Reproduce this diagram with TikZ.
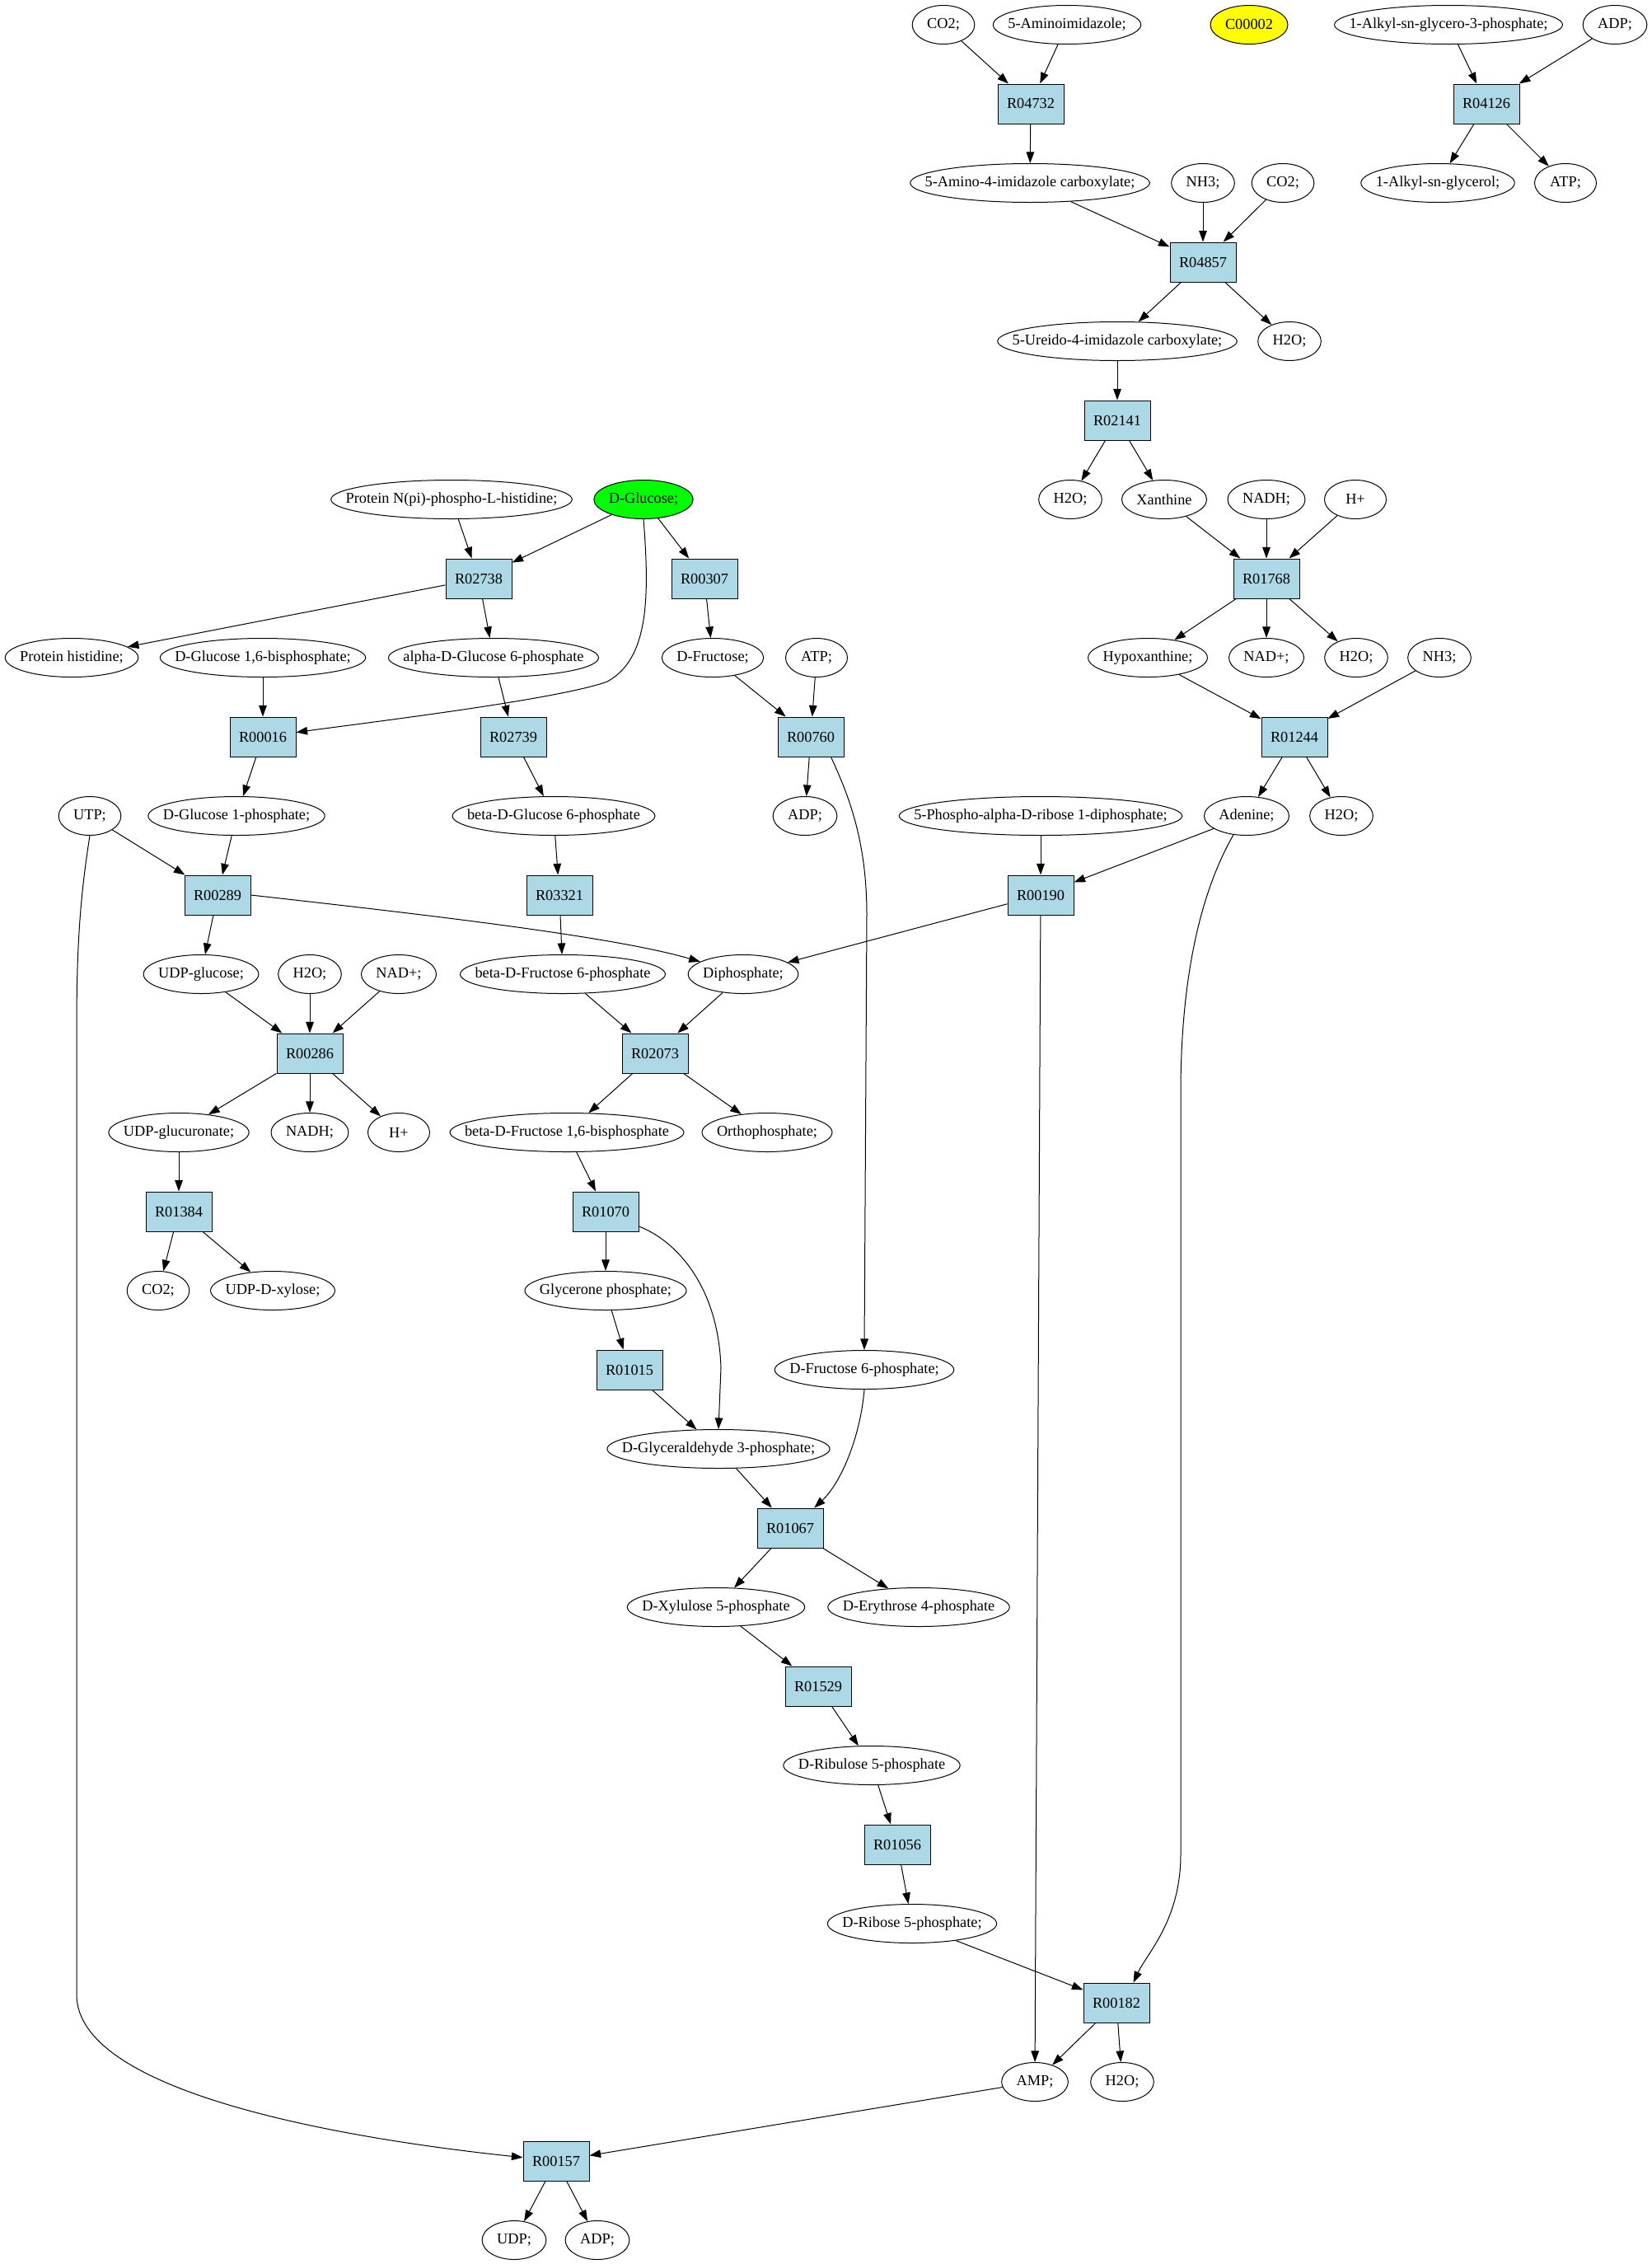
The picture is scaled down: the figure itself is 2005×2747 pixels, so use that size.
\documentclass[tikz,border=0pt]{standalone}
\usepackage{fontspec}
\setmainfont{Liberation Serif}
\usetikzlibrary{shapes.geometric,arrows.meta}
\definecolor{lblue}{HTML}{ADD8E6}
\definecolor{gvgreen}{HTML}{00FF00}
\definecolor{gvyellow}{HTML}{FFFF00}
\newcommand\nfont{\fontsize{9.15pt}{11pt}\selectfont}
\newdimen\cwd
\newcommand\cnode[4][]{%
 \node[cpd,minimum width={max(37.5pt,\cwd+18pt)},#1] (#2) at (#3) {\setbox0=\hbox{#4}\global\cwd=\wd0\relax\makebox[0pt]{#4}};}
\tikzset{
 cpd/.style={ellipse,draw,line width=0.5pt,minimum height=23.5pt,inner xsep=0pt,inner ysep=0pt,font=\nfont},
 rxn/.style={rectangle,draw,fill=lblue,line width=0.5pt,minimum width=40pt,minimum height=24pt,inner sep=0pt,font=\nfont},
 arr/.style={draw,line width=0.5pt,-{Triangle[length=6.8pt,width=4.8pt]}}
}
\begin{document}
\begin{tikzpicture}[x=0.5pt,y=-0.5pt]
\useasboundingbox (0,0) rectangle (2005,2747);
% row 0
\cnode{co2a}{1145,30}{CO2;}
\cnode{aimid}{1295,30}{5-Aminoimidazole;}
\cnode[fill=gvyellow]{c2}{1516,30}{C00002}
\cnode{alkylgp}{1758,30}{1-Alkyl-sn-glycero-3-phosphate;}
\cnode{adpa}{1960,30}{ADP;}
% row 1
\node[rxn] (r04732) at (1251,126) {R04732};
\node[rxn] (r04126) at (1804,126) {R04126};
% row 2
\cnode{aicarb}{1250,222}{5-Amino-4-imidazole carboxylate;}
\cnode{nh3a}{1460,222}{NH3;}
\cnode{co2b}{1557,222}{CO2;}
\cnode{alkylg}{1745,222}{1-Alkyl-sn-glycerol;}
\cnode{atpa}{1900,222}{ATP;}
% row 3
\node[rxn] (r04857) at (1460,318) {R04857};
% row 4
\cnode{ureido}{1356,414}{5-Ureido-4-imidazole carboxylate;}
\cnode{h2oa}{1565,414}{H2O;}
% row 5
\node[rxn] (r02141) at (1356,510) {R02141};
% row 6
\cnode{protnp}{548,606}{Protein N(pi)-phospho-L-histidine;}
\cnode[fill=gvgreen]{glc}{781,606}{D-Glucose;}
\cnode{h2ob}{1299,606}{H2O;}
\cnode{xan}{1413,606}{Xanthine}
\cnode{nadh1}{1537,606}{NADH;}
\cnode{hp1}{1645,606}{H+}
% row 7
\node[rxn] (r02738) at (581,702) {R02738};
\node[rxn] (r00307) at (855,702) {R00307};
\node[rxn] (r01768) at (1537,702) {R01768};
% row 8
\cnode{prothis}{87,798}{Protein histidine;}
\cnode{g16bp}{319,798}{D-Glucose 1,6-bisphosphate;}
\cnode{ag6p}{599,798}{alpha-D-Glucose 6-phosphate}
\cnode{fru}{865,798}{D-Fructose;}
\cnode{atpb}{991,798}{ATP;}
\cnode{hypo}{1393,798}{Hypoxanthine;}
\cnode{nad1}{1537,798}{NAD+;}
\cnode{h2oc}{1646,798}{H2O;}
\cnode{nh3b}{1747,798}{NH3;}
% row 9
\node[rxn] (r00016) at (319,894) {R00016};
\node[rxn] (r02739) at (623,894) {R02739};
\node[rxn] (r00760) at (984,894) {R00760};
\node[rxn] (r01244) at (1571,894) {R01244};
% row 10
\cnode{utp}{109,990}{UTP;}
\cnode{g1p}{287,990}{D-Glucose 1-phosphate;}
\cnode{bg6p}{672,990}{beta-D-Glucose 6-phosphate}
\cnode{adpb}{977,990}{ADP;}
\cnode{prpp}{1263,990}{5-Phospho-alpha-D-ribose 1-diphosphate;}
\cnode{aden}{1513,990}{Adenine;}
\cnode{h2od}{1628,990}{H2O;}
% row 11
\node[rxn] (r00289) at (264,1086) {R00289};
\node[rxn] (r03321) at (679,1086) {R03321};
\node[rxn] (r00190) at (1263,1086) {R00190};
% row 12
\cnode{udpg}{244,1182}{UDP-glucose;}
\cnode{h2oe}{376,1182}{H2O;}
\cnode{nad2}{484,1182}{NAD+;}
\cnode{bf6p}{683,1182}{beta-D-Fructose 6-phosphate}
\cnode{diph}{902,1182}{Diphosphate;}
% row 13
\node[rxn] (r00286) at (376,1278) {R00286};
\node[rxn] (r02073) at (795,1278) {R02073};
% row 14
\cnode{udpgu}{217,1374}{UDP-glucuronate;}
\cnode{nadh2}{376,1374}{NADH;}
\cnode{hp2}{484,1374}{H+}
\cnode{bf16bp}{688,1374}{beta-D-Fructose 1,6-bisphosphate}
\cnode{orth}{931,1374}{Orthophosphate;}
% row 15
\node[rxn] (r01384) at (217,1470) {R01384};
\node[rxn] (r01070) at (735,1470) {R01070};
% row 16
\cnode{co2c}{192,1566}{CO2;}
\cnode{udpx}{331,1566}{UDP-D-xylose;}
\cnode{glyp}{735,1566}{Glycerone phosphate;}
% row 17
\node[rxn] (r01015) at (764,1662) {R01015};
\cnode{f6p}{1049,1662}{D-Fructose 6-phosphate;}
% row 18
\cnode{ga3p}{872,1758}{D-Glyceraldehyde 3-phosphate;}
% row 19
\node[rxn] (r01067) at (959,1854) {R01067};
% row 20
\cnode{xu5p}{869,1950}{D-Xylulose 5-phosphate}
\cnode{e4p}{1115,1950}{D-Erythrose 4-phosphate}
% row 21
\node[rxn] (r01529) at (993,2046) {R01529};
% row 22
\cnode{ru5p}{1058,2142}{D-Ribulose 5-phosphate}
% row 23
\node[rxn] (r01056) at (1089,2238) {R01056};
% row 24
\cnode{r5p}{1107,2334}{D-Ribose 5-phosphate;}
% row 25
\node[rxn] (r00182) at (1355,2430) {R00182};
% row 26
\cnode{amp}{1256,2526}{AMP;}
\cnode{h2of}{1362,2526}{H2O;}
% row 27
\node[rxn] (r00157) at (675,2622) {R00157};
% row 28
\cnode{udp}{624,2718}{UDP;}
\cnode{adpc}{725,2718}{ADP;}

% edges
\draw[arr] (co2a) -- (r04732);
\draw[arr] (aimid) -- (r04732);
\draw[arr] (r04732) -- (aicarb);
\draw[arr] (alkylgp) -- (r04126);
\draw[arr] (adpa) -- (r04126);
\draw[arr] (r04126) -- (alkylg);
\draw[arr] (r04126) -- (atpa);
\draw[arr] (aicarb) -- (r04857);
\draw[arr] (nh3a) -- (r04857);
\draw[arr] (co2b) -- (r04857);
\draw[arr] (r04857) -- (ureido);
\draw[arr] (r04857) -- (h2oa);
\draw[arr] (ureido) -- (r02141);
\draw[arr] (r02141) -- (h2ob);
\draw[arr] (r02141) -- (xan);
\draw[arr] (xan) -- (r01768);
\draw[arr] (nadh1) -- (r01768);
\draw[arr] (hp1) -- (r01768);
\draw[arr] (r01768) -- (hypo);
\draw[arr] (r01768) -- (nad1);
\draw[arr] (r01768) -- (h2oc);
\draw[arr] (hypo) -- (r01244);
\draw[arr] (nh3b) -- (r01244);
\draw[arr] (r01244) -- (aden);
\draw[arr] (r01244) -- (h2od);
\draw[arr] (aden) -- (r00190);
\draw[arr] (prpp) -- (r00190);
\draw[arr] (r00190) -- (diph);
\draw[arr] (r00190) -- (amp);
\draw[arr] (aden.235) .. controls (1470,1060) and (1434,1150) .. (1433,1320) -- (1433,2250) .. controls (1433,2330) and (1392,2370) .. (r00182.50);
\draw[arr] (r5p) -- (r00182);
\draw[arr] (r00182) -- (amp);
\draw[arr] (r00182) -- (h2of);
\draw[arr] (amp) -- (r00157);
\draw[arr] (utp.south) .. controls (97,1090) and (93,1150) .. (93,1250) -- (93,2420) .. controls (93,2540) and (420,2595) .. (r00157);
\draw[arr] (r00157) -- (udp);
\draw[arr] (r00157) -- (adpc);
\draw[arr] (protnp) -- (r02738);
\draw[arr] (glc) -- (r02738);
\draw[arr] (r02738) -- (prothis);
\draw[arr] (r02738) -- (ag6p);
\draw[arr] (glc) -- (r00307);
\draw[arr] (glc.south) .. controls (789,730) and (786,800) .. (737,827) .. controls (680,848) and (460,875) .. (r00016);
\draw[arr] (r00307) -- (fru);
\draw[arr] (fru) -- (r00760);
\draw[arr] (atpb) -- (r00760);
\draw[arr] (r00760) -- (adpb);
\draw[arr] (r00760.-45) .. controls (1030,965) and (1052,1020) .. (1052,1110) -- (f6p.north);
\draw[arr] (g16bp) -- (r00016);
\draw[arr] (r00016) -- (g1p);
\draw[arr] (ag6p) -- (r02739);
\draw[arr] (r02739) -- (bg6p);
\draw[arr] (bg6p) -- (r03321);
\draw[arr] (r03321) -- (bf6p);
\draw[arr] (bf6p) -- (r02073);
\draw[arr] (g1p) -- (r00289);
\draw[arr] (utp) -- (r00289);
\draw[arr] (r00289) -- (udpg);
\draw[arr] (r00289.east) .. controls (500,1108) and (740,1135) .. (diph);
\draw[arr] (udpg) -- (r00286);
\draw[arr] (h2oe) -- (r00286);
\draw[arr] (nad2) -- (r00286);
\draw[arr] (r00286) -- (udpgu);
\draw[arr] (r00286) -- (nadh2);
\draw[arr] (r00286) -- (hp2);
\draw[arr] (udpgu) -- (r01384);
\draw[arr] (r01384) -- (co2c);
\draw[arr] (r01384) -- (udpx);
\draw[arr] (diph) -- (r02073);
\draw[arr] (r02073) -- (bf16bp);
\draw[arr] (r02073) -- (orth);
\draw[arr] (bf16bp) -- (r01070);
\draw[arr] (r01070) -- (glyp);
\draw[arr] (r01070.-24) .. controls (820,1505) and (872,1560) .. (875,1660) -- (ga3p.north);
\draw[arr] (glyp) -- (r01015);
\draw[arr] (r01015) -- (ga3p);
\draw[arr] (ga3p) -- (r01067);
\draw[arr] (f6p.south) .. controls (1044,1745) and (1020,1800) .. (r01067.40);
\draw[arr] (r01067) -- (xu5p);
\draw[arr] (r01067) -- (e4p);
\draw[arr] (xu5p) -- (r01529);
\draw[arr] (r01529) -- (ru5p);
\draw[arr] (ru5p) -- (r01056);
\draw[arr] (r01056) -- (r5p);
\end{tikzpicture}
\end{document}
